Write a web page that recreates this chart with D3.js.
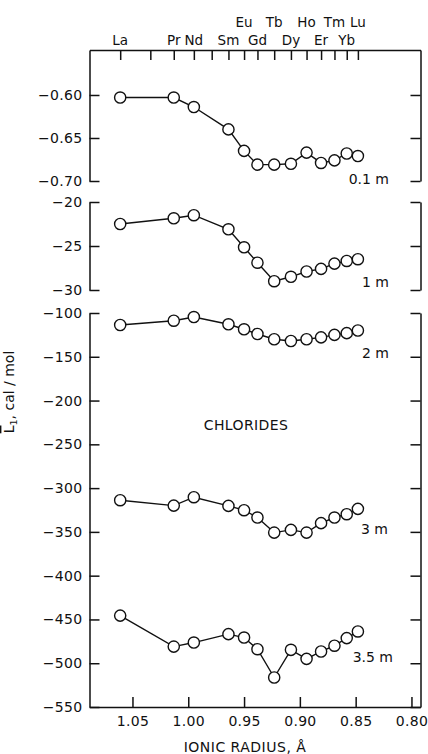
<!DOCTYPE html>
<html>
<head>
<meta charset="utf-8">
<script src="https://cdn.jsdelivr.net/npm/d3@7"></script>
<style>
  body { margin: 0; background: #fff; }
  text { font-family: "DejaVu Sans", sans-serif; fill: #111; }
</style>
</head>
<body>
<div id="chart"></div>
<script>
/* DATA */
// lanthanide ions and their ionic radii (top axis)
const elements = ["La", "Ce", "Pr", "Nd", "Pm", "Sm", "Eu", "Gd", "Tb", "Dy", "Ho", "Er", "Tm", "Yb", "Lu"];
const radii = [1.061, 1.034, 1.013, 0.995, 0.979, 0.964, 0.950, 0.938, 0.923, 0.908, 0.894, 0.881, 0.869, 0.858, 0.848];
const upperRowLabels = ["Eu", "Tb", "Ho", "Tm", "Lu"];
const lowerRowLabels = ["La", "Pr", "Nd", "Sm", "Gd", "Dy", "Er", "Yb"];
// salts actually measured (no Ce, no Pm)
const measured = ["La", "Pr", "Nd", "Sm", "Eu", "Gd", "Tb", "Dy", "Ho", "Er", "Tm", "Yb", "Lu"];

// relative partial molal enthalpy of water, cal/mol
const m01 = [-0.603, -0.603, -0.614, -0.640, -0.665, -0.681, -0.681, -0.680, -0.667, -0.679, -0.676, -0.668, -0.671];
const m1 = [-22.5, -21.85, -21.5, -23.1, -25.15, -26.9, -29.0, -28.5, -27.9, -27.6, -27.0, -26.7, -26.5];
const m2 = [-113.7, -108.8, -104.6, -112.9, -118.6, -124, -130, -132, -130, -127.8, -125, -123, -120];
const m3 = [-313.8, -320, -310.4, -320.3, -325.2, -333.6, -350.8, -347.7, -350.8, -340, -333.6, -329.8, -323.7];
const m35 = [-445.6, -481, -476.4, -466.8, -470.7, -484, -516.3, -484.7, -495, -486.6, -480, -471.3, -463.7];

// tick values
const xTicks = [1.05, 1.00, 0.95, 0.90, 0.85, 0.80];
const ticksA = [-0.60, -0.65, -0.70];
const ticksB = [-20, -25, -30];
const ticksC = [-100, -150, -200, -250, -300, -350, -400, -450, -500, -550];

/* LAYOUT */
const width = 428, height = 754;
const plotLeft = 89.5, plotRight = 420.5, plotTop = 50;

const svg = d3.select("#chart").append("svg")
  .attr("width", width)
  .attr("height", height);

const x = d3.scaleLinear().domain([1.0885, 0.7919]).range([plotLeft, plotRight]);

// three stacked panels, each with its own y scale
const yA = d3.scaleLinear().domain([-0.70, -0.5477]).range([181, plotTop]);
const yB = d3.scaleLinear().domain([-30, -20]).range([290, 202]);
const yC = d3.scaleLinear().domain([-550, -100]).range([707, 313]);

function styleAxis(g) {
  g.selectAll("path, line").attr("stroke", "#111").attr("stroke-width", 1.5);
  g.selectAll("text").attr("font-size", 14).attr("fill", "#111")
    .attr("letter-spacing", 0.3)
    .attr("font-family", "DejaVu Sans, sans-serif");
}

const panels = [
  { y: yA, ticks: ticksA, fmt: d3.format(".2f") },
  { y: yB, ticks: ticksB, fmt: d3.format("d") },
  { y: yC, ticks: ticksC, fmt: d3.format("d") }
];

panels.forEach(p => {
  svg.append("g")
    .attr("transform", `translate(${plotLeft},0)`)
    .call(d3.axisLeft(p.y).tickValues(p.ticks).tickFormat(p.fmt)
      .tickSizeInner(-10).tickSizeOuter(0).tickPadding(7))
    .call(styleAxis);
  svg.append("g")
    .attr("transform", `translate(${plotRight},0)`)
    .call(d3.axisRight(p.y).tickValues(p.ticks).tickFormat("")
      .tickSizeInner(-10).tickSizeOuter(0))
    .call(styleAxis);
});

// bottom axis - ionic radius
svg.append("g")
  .attr("transform", `translate(0,${yC.range()[0]})`)
  .call(d3.axisBottom(x).tickValues(xTicks).tickFormat(d3.format(".2f"))
    .tickSizeInner(-10).tickSizeOuter(0).tickPadding(9))
  .call(styleAxis);

// top axis - one tick per element
svg.append("g")
  .attr("transform", `translate(0,${plotTop})`)
  .call(d3.axisTop(x).tickValues(radii).tickFormat("")
    .tickSizeInner(-10).tickSizeOuter(0))
  .call(styleAxis);

const radiusOf = el => radii[elements.indexOf(el)];

svg.selectAll(".el-upper")
  .data(upperRowLabels)
  .join("text")
  .attr("x", d => x(radiusOf(d)))
  .attr("y", 27)
  .attr("text-anchor", "middle")
  .attr("font-size", 13.5)
  .text(d => d);

svg.selectAll(".el-lower")
  .data(lowerRowLabels)
  .join("text")
  .attr("x", d => x(radiusOf(d)))
  .attr("y", 45)
  .attr("text-anchor", "middle")
  .attr("font-size", 13.5)
  .text(d => d);

/* SERIES */
const series = [
  { values: m01, y: yA, label: "0.1 m", lx: 389, ly: 184 },
  { values: m1, y: yB, label: "1 m", lx: 389, ly: 287 },
  { values: m2, y: yC, label: "2 m", lx: 389, ly: 358 },
  { values: m3, y: yC, label: "3 m", lx: 388, ly: 534 },
  { values: m35, y: yC, label: "3.5 m", lx: 393, ly: 662 }
];

series.forEach(s => {
  const pts = measured.map((el, i) => ({ r: radiusOf(el), v: s.values[i] }));
  const line = d3.line().x(d => x(d.r)).y(d => s.y(d.v));

  svg.append("path")
    .datum(pts)
    .attr("d", line)
    .attr("fill", "none")
    .attr("stroke", "#111")
    .attr("stroke-width", 1.4);

  svg.append("g")
    .selectAll("circle")
    .data(pts)
    .join("circle")
    .attr("cx", d => x(d.r))
    .attr("cy", d => s.y(d.v))
    .attr("r", 5.6)
    .attr("fill", "#fff")
    .attr("stroke", "#111")
    .attr("stroke-width", 1.4);

  svg.append("text")
    .attr("x", s.lx)
    .attr("y", s.ly)
    .attr("text-anchor", "end")
    .attr("font-size", 14)
    .text(s.label);
});

svg.append("text")
  .attr("x", 246)
  .attr("y", 430)
  .attr("text-anchor", "middle")
  .attr("font-size", 14)
  .attr("letter-spacing", 0.4)
  .text("CHLORIDES");

// axis titles
svg.append("text")
  .attr("x", 245)
  .attr("y", 752)
  .attr("text-anchor", "middle")
  .attr("font-size", 14)
  .attr("letter-spacing", 0.5)
  .text("IONIC RADIUS, Å");

const ylab = svg.append("text")
  .attr("transform", "translate(14,392) rotate(-90)")
  .attr("text-anchor", "middle")
  .attr("font-size", 14);
ylab.append("tspan").attr("text-decoration", "overline").text("L");
ylab.append("tspan").attr("font-size", 9.5).attr("dy", 3).text("1");
ylab.append("tspan").attr("dy", -3).text(",  cal / mol");
</script>
</body>
</html>
